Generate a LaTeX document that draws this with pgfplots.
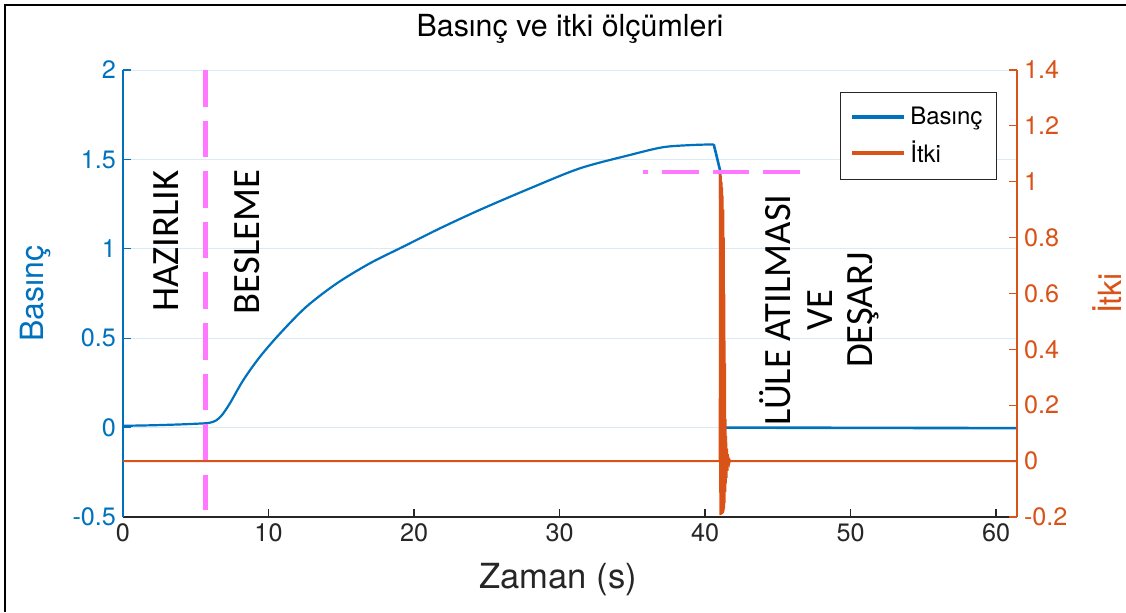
\documentclass[border=0pt]{standalone}
\usepackage{pgfplots}
\pgfplotsset{compat=1.18}
\usepackage{fontspec}
\setmainfont{TeX Gyre Heros}
\newfontfamily\annfont{Carlito}
\definecolor{mblue}{RGB}{0,114,189}
\definecolor{morange}{RGB}{217,83,25}
\definecolor{mgray}{RGB}{38,38,38}
\definecolor{mgrid}{RGB}{217,234,245}
\definecolor{mmag}{RGB}{255,120,255}
\pgfplotstableread{
x y
0 0.010
2 0.013
4 0.018
5.6 0.024
6.0 0.028
6.4 0.040
6.8 0.070
7.35 0.136
8.27 0.266
9.42 0.397
10.8 0.527
12.6 0.676
14.7 0.807
16.97 0.919
19.26 1.012
21.8 1.115
24.5 1.217
27.97 1.338
31.4 1.450
34.85 1.525
37.1 1.568
39.0 1.580
40.6 1.584
}\basincA
\pgfplotstableread{
x y
40.6 1.584
41.03 1.440
41.2 0.000
61.44 -0.003
}\basincB
\pgfplotstableread{
x y
0 0
10 0
20 0
30 0
40 0
41.00 0
41.02 1.035
41.04 -0.193
41.06 1.03
41.08 -0.192
41.10 1.02
41.12 -0.19
41.14 1.00
41.16 -0.19
41.18 0.98
41.20 -0.188
41.22 0.95
41.24 -0.185
41.26 0.90
41.28 -0.18
41.30 0.80
41.32 -0.17
41.34 0.60
41.36 -0.15
41.38 0.35
41.40 -0.11
41.42 0.15
41.44 -0.08
41.46 0.09
41.49 -0.06
41.52 0.045
41.55 -0.035
41.58 0.025
41.61 -0.018
41.64 0.012
41.68 -0.006
41.72 0.003
41.80 0
61.44 0
}\itki
\begin{document}
\begin{tikzpicture}
\useasboundingbox (0,0) rectangle (563pt,306pt);
\draw[line width=1pt, black] (2.5pt,0) -- (2.5pt,303.5pt) -- (563pt,303.5pt);
\begin{axis}[
  at={(61.5pt,47.5pt)}, anchor=south west, scale only axis,
  width=447pt, height=223.5pt,
  xmin=0, xmax=61.44, ymin=-0.5, ymax=2,
  axis x line*=bottom, axis y line*=left,
  x axis line style={mgray, line width=0.6pt, -},
  y axis line style={mblue, line width=0.6pt, -},
  tick align=inside,
  major tick length=4pt,
  xtick={0,10,20,30,40,50,60},
  ytick={-0.5,0,0.5,1,1.5,2},
  x tick style={mgray, line width=0.6pt},
  y tick style={mblue, line width=0.6pt},
  xticklabel style={text=mgray, font=\fontsize{12.6}{15}\selectfont},
  yticklabel style={text=mblue, font=\fontsize{12.6}{15}\selectfont},
  /pgf/number format/assume math mode=true,
  ymajorgrids, grid style={mgrid, line width=0.5pt},
  xlabel={Zaman (s)}, ylabel={Basınç},
  xlabel style={text=mgray, font=\fontsize{17.3}{20}\selectfont, at={(axis description cs:0.4866,-0.141)}, anchor=center},
  ylabel style={text=mblue, font=\fontsize{16}{19}\selectfont, at={(axis description cs:-0.098,0.5)}, anchor=center},
  title={Basınç ve itki ölçümleri},
  title style={text=black, font=\fontsize{15.2}{18}\selectfont, at={(axis description cs:0.5,1.066)}, anchor=center},
  clip=false,
]
\addplot[mblue, line width=1.1pt, smooth, tension=0.5] table[x=x,y=y] {\basincA};
\addplot[mblue, line width=1.3pt] table[x=x,y=y] {\basincB};
\addplot[mmag, line width=2.5pt, dash pattern=on 18.3pt off 7pt] coordinates {(5.7,2.0) (5.7,-0.46)};
\node[rotate=90, font=\annfont\fontsize{19.3}{23}\selectfont] at (axis cs:2.96,1.044) {HAZIRLIK};
\node[rotate=90, font=\annfont\fontsize{19.3}{23}\selectfont] at (axis cs:8.56,1.038) {BESLEME};
\node[rotate=90, font=\annfont\fontsize{19.3}{23}\selectfont] at (axis cs:44.8,0.658) {LÜLE ATILMASI};
\node[rotate=90, font=\annfont\fontsize{19.3}{23}\selectfont] at (axis cs:47.9,0.657) {VE};
\node[rotate=90, font=\annfont\fontsize{19.3}{23}\selectfont] at (axis cs:50.9,0.657) {DEŞARJ};
\end{axis}
\begin{axis}[
  at={(61.5pt,47.5pt)}, anchor=south west, scale only axis,
  width=447pt, height=223.5pt,
  xmin=0, xmax=61.44, ymin=-0.2, ymax=1.4,
  hide x axis,
  axis y line*=right,
  y axis line style={morange, line width=0.6pt, -},
  tick align=inside,
  major tick length=4pt,
  ytick={-0.2,0,0.2,0.4,0.6,0.8,1,1.2,1.4},
  y tick style={morange, line width=0.6pt},
  yticklabel style={text=morange, font=\fontsize{12.6}{15}\selectfont},
  /pgf/number format/assume math mode=true,
  /pgf/number format/fixed,
  ylabel={İtki},
  ylabel style={text=morange, font=\fontsize{16}{19}\selectfont, at={(axis description cs:1.1007,0.5)}, anchor=center, rotate=0},
  legend style={at={(0.9776,0.9508)}, anchor=north east, draw=mgray, line width=0.6pt,
     font=\fontsize{12}{14}\selectfont, row sep=3pt, inner xsep=5pt, inner ysep=5pt},
  legend cell align=left,
  legend image code/.code={\draw[#1, line width=2pt] (0pt,0pt) -- (26pt,0pt);},
  clip=false,
]
\addlegendimage{mblue}
\addlegendentry{Basınç}
\addplot[morange, line width=0.9pt] table[x=x,y=y] {\itki};
\addlegendentry{İtki}
\addplot[mmag, line width=2.3pt, dash pattern=on 18.3pt off 7pt, forget plot] coordinates {(46.53,1.035) (35.74,1.035)};
\end{axis}
\end{tikzpicture}
\end{document}
